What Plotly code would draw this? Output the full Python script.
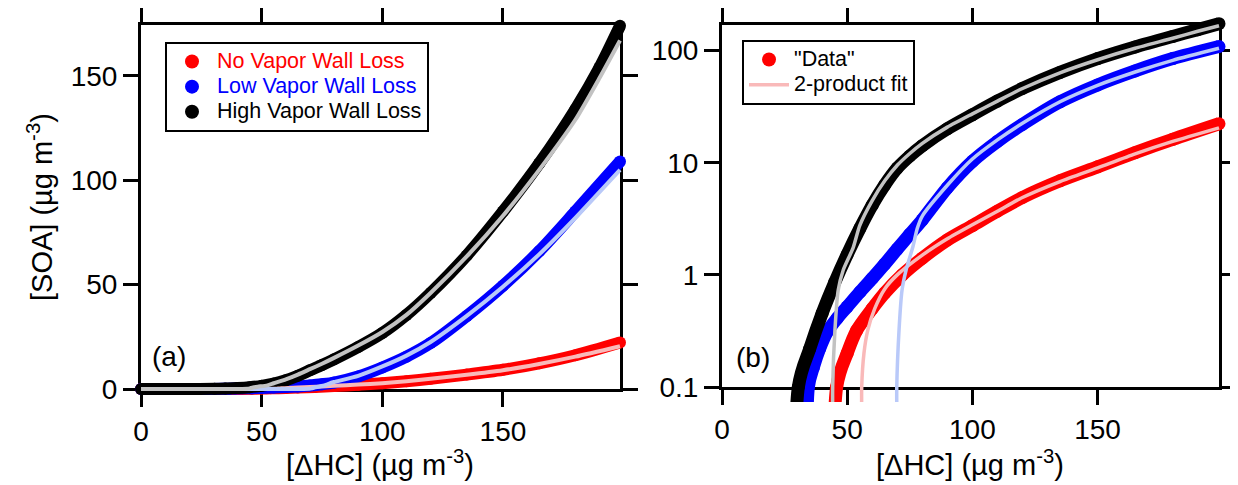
import plotly.graph_objects as go

# ---------------- data ----------------
# "Data" series
x_no = [0, 20, 40, 45.8, 50, 53.8, 60, 65, 72, 80, 90, 100, 110, 120, 135, 150, 165, 180, 198.5]
y_no = [0, 0, 0, 0.1, 0.2, 0.32, 0.5, 0.69, 1.0, 1.41, 2.05, 2.75, 3.7, 4.9, 6.9, 9.2, 12.3, 16.2, 22.3]

x_low = [0, 20, 30, 34.5, 36.5, 39, 42, 46, 50, 55, 60, 65, 70, 75, 80, 90, 100, 110, 120, 135, 150, 165, 180, 198.5]
y_low = [0, 0, 0, 0.1, 0.15, 0.22, 0.31, 0.41, 0.52, 0.70, 0.93, 1.25, 1.7, 2.3, 3.1, 6.0, 10.3, 15.5, 22, 35, 49.5, 66, 85, 109]

x_high = [0, 20, 30.5, 35, 40, 45, 50, 55, 60, 65, 70, 75, 80, 90, 100, 110, 120, 135, 150, 165, 180, 190, 198.5]
y_high = [0, 0, 0.1, 0.218, 0.455, 0.856, 1.52, 2.58, 4.19, 6.35, 8.97, 11.5, 14.2, 20.1, 26.8, 35.5, 46, 64, 85, 108, 134, 154, 174]

# 2-product fits
xf_no = [0, 40, 55.8, 56.7, 58.2, 61, 65, 70, 80, 90, 100, 110, 120, 135, 150, 165, 180, 198.5]
yf_no = [0, 0, 0.1, 0.2, 0.32, 0.5, 0.75, 1.0, 1.5, 2.1, 2.8, 3.7, 4.9, 6.8, 9.0, 12.0, 15.5, 20.5]

xf_low = [0, 40, 69.8, 70.7, 71.9, 73.5, 76.3, 78, 80, 90, 100, 110, 120, 135, 150, 165, 180, 198.5]
yf_low = [0, 0, 0.1, 0.32, 0.73, 1.1, 1.8, 2.6, 3.35, 6.3, 10.8, 16, 22.5, 35, 49, 64.5, 82, 105]

xf_high = [0, 20, 40, 44.2, 45.1, 46.4, 48.4, 52.4, 55, 60, 65, 70, 75, 80, 90, 100, 110, 120, 135, 150, 165, 180, 190, 198.5]
yf_high = [0, 0, 0, 0.1, 0.32, 0.73, 1.1, 1.75, 2.75, 4.6, 6.9, 9.5, 12.1, 14.9, 20.8, 27.3, 35.5, 46, 63.5, 83, 105, 129, 149, 167]

x_ticks = [0, 50, 100, 150]
ya_ticks = [0, 50, 100, 150]
yb_ticks = [0.1, 1, 10, 100]
yb_ticktext = ["0.1", "1", "10", "100"]

series_names = ["No Vapor Wall Loss", "Low Vapor Wall Loss", "High Vapor Wall Loss"]
data_colors = ["#ff0000", "#0000ff", "#000000"]
fit_colors = ["#f9b9b9", "#b9c9f9", "#c2c2c2"]

# ---------------- layout geometry ----------------
OFF = 8                    # page body margin in the browser
W, H = 1238 - OFF, 485 - OFF
FONT = "Liberation Sans, Arial, sans-serif"
PAD = 15  # px of extra drawing room around each frame


def fx(px):
    return (px - OFF) / W


def fy(px):
    return (H - (px - OFF)) / H


# frame pixel boxes (page coordinates)
A = dict(l=141, r=620, t=25, b=389, xr=[0, 198.5], yr=[0, 174.4])
B = dict(l=722, r=1219, t=25, b=387, xr=[0, 198.5], yr=[-1, 2.229])

fig = go.Figure()

data = [(x_no, y_no), (x_low, y_low), (x_high, y_high)]
fits = [(xf_no, yf_no), (xf_low, yf_low), (xf_high, yf_high)]

for xa, ya, dw, fitw in (("x3", "y3", 12, 4), ("x4", "y4", 13, 3.5)):
    for (xs, ys), c in zip(data, data_colors):
        fig.add_trace(go.Scatter(x=xs, y=ys, mode="lines+markers",
                                 line=dict(color=c, width=dw, shape="spline", smoothing=0.8),
                                 marker=dict(color=c, size=dw),
                                 xaxis=xa, yaxis=ya, showlegend=False,
                                 hoverinfo="skip"))
    for (xs, ys), c in zip(fits, fit_colors):
        fig.add_trace(go.Scatter(x=xs, y=ys, mode="lines",
                                 line=dict(color=c, width=fitw, shape="spline", smoothing=0.6),
                                 xaxis=xa, yaxis=ya, showlegend=False,
                                 hoverinfo="skip"))

LEG_TXT = "font-size:21.5px"
# legend entries
for name, c in zip(series_names, data_colors):
    fig.add_trace(go.Scatter(x=[None], y=[None], mode="markers",
                             marker=dict(color=c, size=14),
                             name=f'<span style="color:{c};{LEG_TXT}">{name}</span>',
                             xaxis="x", yaxis="y", legend="legend"))
fig.add_trace(go.Scatter(x=[None], y=[None], mode="markers",
                         marker=dict(color=data_colors[0], size=14),
                         name=f'<span style="{LEG_TXT}">"Data"</span>',
                         xaxis="x2", yaxis="y2", legend="legend2"))
fig.add_trace(go.Scatter(x=[None], y=[None], mode="lines",
                         line=dict(color=fit_colors[0], width=3.5),
                         name=f'<span style="{LEG_TXT}">2-product fit</span>',
                         xaxis="x2", yaxis="y2", legend="legend2"))

axis_common = dict(showline=True, linewidth=3, linecolor="black", mirror="allticks",
                   ticks="outside", ticklen=15, tickwidth=2.5, tickcolor="black",
                   showgrid=False, zeroline=False, automargin=False,
                   tickfont=dict(family=FONT, size=28, color="black"))


def data_axes(box, log=False):
    sx = (box["r"] - box["l"]) / (box["xr"][1] - box["xr"][0])
    sy = (box["b"] - box["t"]) / (box["yr"][1] - box["yr"][0])
    xdom = [fx(box["l"] - PAD), fx(box["r"] + PAD)]
    ydom = [fy(box["b"] + PAD), fy(box["t"] - PAD)]
    xr = [box["xr"][0] - PAD / sx, box["xr"][1] + PAD / sx]
    yr = [box["yr"][0] - PAD / sy, box["yr"][1] + PAD / sy]
    xd = dict(domain=xdom, range=xr, visible=False, fixedrange=True, automargin=False)
    yd = dict(domain=ydom, range=yr, visible=False, fixedrange=True, automargin=False)
    if log:
        yd["type"] = "log"
    return xd, yd


x3, y3 = data_axes(A)
x4, y4 = data_axes(B, log=True)
x3["anchor"] = "y3"
y3["anchor"] = "x3"
x4["anchor"] = "y4"
y4["anchor"] = "x4"

legend_common = dict(bgcolor="white", bordercolor="black", borderwidth=2,
                     font=dict(family=FONT, size=17, color="black"),
                     xanchor="left", yanchor="top", tracegroupgap=0,
                     itemwidth=40,
                     itemclick=False, itemdoubleclick=False)

title_font = dict(family=FONT, size=29, color="black")

fig.update_layout(
    width=W, height=H,
    margin=dict(l=0, r=0, t=0, b=0, autoexpand=False),
    paper_bgcolor="white", plot_bgcolor="rgba(0,0,0,0)",
    font=dict(family=FONT, color="black"),
    xaxis=dict(domain=[fx(A["l"]), fx(A["r"])], range=A["xr"], anchor="y",
               tickvals=x_ticks, **axis_common),
    yaxis=dict(domain=[fy(A["b"]), fy(A["t"])], range=A["yr"], anchor="x",
               tickvals=ya_ticks, **axis_common),
    xaxis2=dict(domain=[fx(B["l"]), fx(B["r"])], range=B["xr"], anchor="y2",
                tickvals=x_ticks, **axis_common),
    yaxis2=dict(domain=[fy(B["b"]), fy(B["t"])], range=B["yr"], anchor="x2", type="log",
                tickvals=yb_ticks, ticktext=yb_ticktext, **axis_common),
    xaxis3=x3, yaxis3=y3, xaxis4=x4, yaxis4=y4,
    legend=dict(x=fx(165), y=fy(42), **legend_common),
    legend2=dict(x=fx(742), y=fy(40), **legend_common),
    showlegend=True,
    annotations=[
        dict(text="[SOA] (µg m<sup>-3</sup>)", xref="paper", yref="paper",
             x=fx(40), y=fy(207), textangle=-90, showarrow=False, font=title_font,
             xanchor="center", yanchor="middle"),
        dict(text="[ΔHC] (µg m<sup>-3</sup>)", xref="paper", yref="paper",
             x=fx(380), y=fy(463), showarrow=False, font=title_font,
             xanchor="center", yanchor="middle"),
        dict(text="[ΔHC] (µg m<sup>-3</sup>)", xref="paper", yref="paper",
             x=fx(970), y=fy(463), showarrow=False, font=title_font,
             xanchor="center", yanchor="middle"),
        dict(text="(a)", xref="paper", yref="paper", x=fx(169), y=fy(356),
             showarrow=False, font=dict(family=FONT, size=28, color="black"),
             xanchor="center", yanchor="middle"),
        dict(text="(b)", xref="paper", yref="paper", x=fx(753), y=fy(357),
             showarrow=False, font=dict(family=FONT, size=28, color="black"),
             xanchor="center", yanchor="middle"),
    ],
)

fig.write_html("out.html")
